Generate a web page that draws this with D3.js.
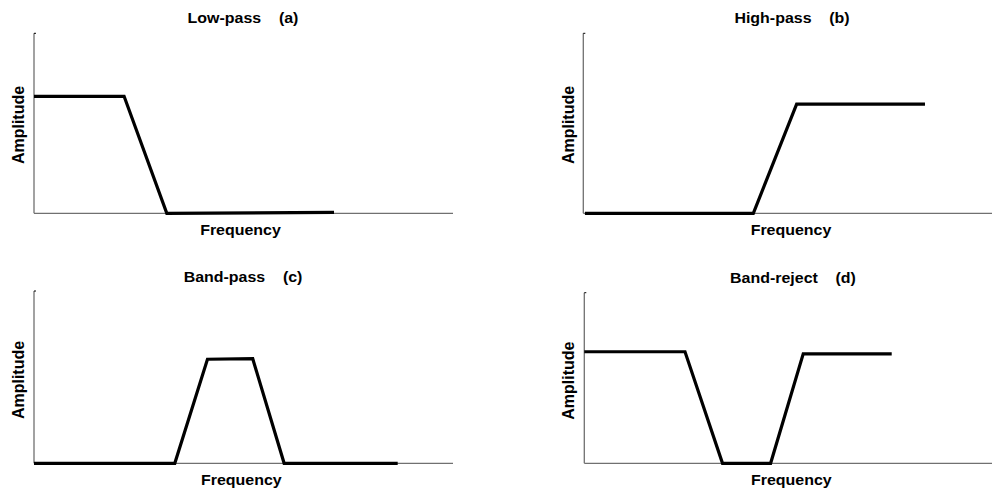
<!DOCTYPE html>
<html>
<head>
<meta charset="utf-8">
<script src="https://cdn.jsdelivr.net/npm/d3@7"></script>
<style>
  body { margin: 0; background: #fff; }
  text { font-family: "Liberation Sans", Arial, sans-serif; font-weight: bold; font-size: 16px; fill: #000; white-space: pre; }
</style>
</head>
<body>
<svg id="chart" width="992" height="488"></svg>
<script>
// frequency on 0..10, amplitude on 0..1
const lowPassFreq = [0, 2.15, 3.17, 7.16];
const lowPassAmp = [0.65, 0.65, 0, 0.005];
const highPassFreq = [0.04, 4.16, 5.22, 8.36];
const highPassAmp = [0, 0, 0.606, 0.606];
const bandPassFreq = [0, 3.36, 4.14, 5.22, 5.97, 8.68];
const bandPassAmp = [0, 0, 0.604, 0.607, 0, 0];
const bandRejectFreq = [0, 2.47, 3.39, 4.57, 5.37, 7.54];
const bandRejectAmp = [0.654, 0.654, 0, 0, 0.642, 0.642];

const titles = ['Low-pass    (a)', 'High-pass    (b)', 'Band-pass    (c)', 'Band-reject    (d)'];
const xLabel = 'Frequency';
const yLabel = 'Amplitude';

// layout of each panel (pixels)
const panels = [
    {freq: lowPassFreq, amp: lowPassAmp, x0: 34, x1: 453, top: 33.3, base: 213.3, titleX: 243, titleY: 22.5, labX: 240.5, labY: 235, ampX: 18, ampY: 125},
    {freq: highPassFreq, amp: highPassAmp, x0: 583.3, x1: 992, top: 33.3, base: 213.3, titleX: 792, titleY: 23, labX: 791, labY: 234.5, ampX: 567.5, ampY: 125},
    {freq: bandPassFreq, amp: bandPassAmp, x0: 34, x1: 453, top: 291, base: 463.3, titleX: 243, titleY: 281.7, labX: 241.3, labY: 484.5, ampX: 18, ampY: 380},
    {freq: bandRejectFreq, amp: bandRejectAmp, x0: 584.3, x1: 992, top: 292.7, base: 463.3, titleX: 793, titleY: 282.7, labX: 791.3, labY: 485, ampX: 567.5, ampY: 380.7}
];

const svg = d3.select('#chart');

panels.forEach((p, i) => {
    const x = d3.scaleLinear().domain([0, 10]).range([p.x0, p.x1]);
    const y = d3.scaleLinear().domain([0, 1]).range([p.base, p.top]);
    const g = svg.append('g');

    // axes: plain lines, no ticks
    g.append('line')
        .attr('x1', x(0)).attr('x2', x(10))
        .attr('y1', y(0)).attr('y2', y(0))
        .attr('stroke', '#707070').attr('stroke-width', 1.3);
    g.append('line')
        .attr('x1', x(0)).attr('x2', x(0))
        .attr('y1', y(0)).attr('y2', y(1))
        .attr('stroke', '#707070').attr('stroke-width', 1.3);
    g.append('line')
        .attr('x1', x(0)).attr('x2', x(0) + 2)
        .attr('y1', y(1)).attr('y2', y(1))
        .attr('stroke', '#000').attr('stroke-width', 1);

    const pts = p.freq.map((f, k) => [f, p.amp[k]]);
    g.append('path')
        .datum(pts)
        .attr('d', d3.line().x(d => x(d[0])).y(d => y(d[1])))
        .attr('fill', 'none')
        .attr('stroke', '#000')
        .attr('stroke-width', 3.2)
        .attr('stroke-linejoin', 'miter');

    // the source text is a bit wider than it is tall
    g.append('text')
        .attr('transform', `translate(${p.titleX},${p.titleY}) scale(1.14,1)`)
        .attr('text-anchor', 'middle')
        .style('font-size', '14px')
        .text(titles[i]);
    g.append('text')
        .attr('transform', `translate(${p.labX},${p.labY}) scale(1.065,1)`)
        .attr('text-anchor', 'middle')
        .style('font-size', '15px')
        .text(xLabel);
    g.append('text')
        .attr('transform', `translate(${p.ampX + 6},${p.ampY}) rotate(-90)`)
        .attr('text-anchor', 'middle')
        .text(yLabel);
});
</script>
</body>
</html>
